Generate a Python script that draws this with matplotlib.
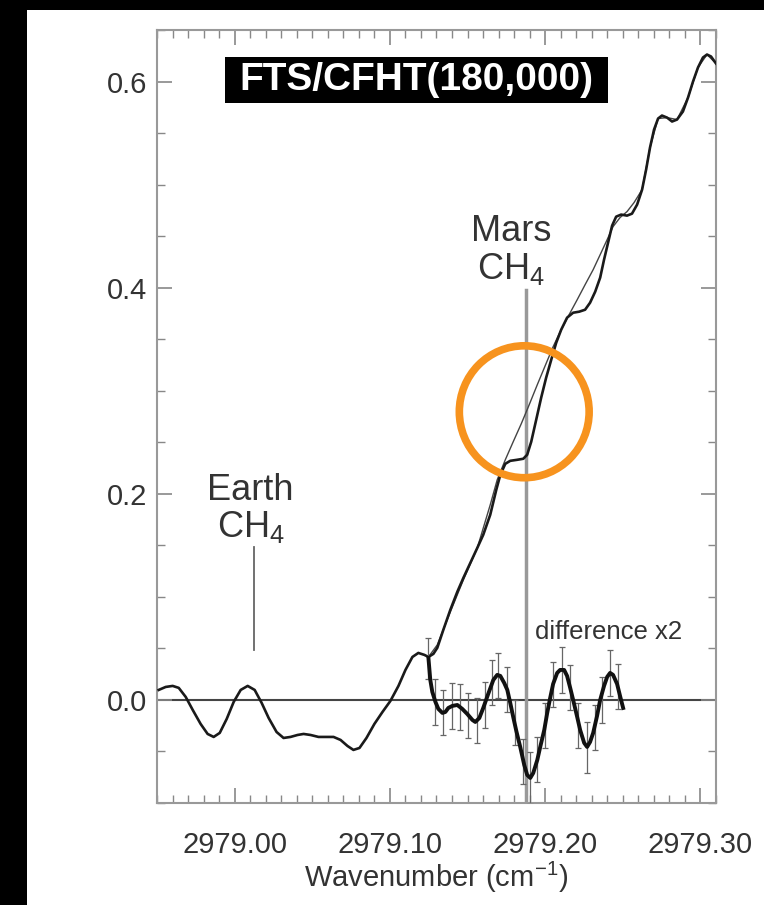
import matplotlib
matplotlib.use('Agg')
import matplotlib.pyplot as plt
from matplotlib.patches import Rectangle, Ellipse
from matplotlib.ticker import MultipleLocator, FormatStrFormatter

plt.rcParams['font.family'] = ['Liberation Sans', 'DejaVu Sans']
plt.rcParams['mathtext.fontset'] = 'custom'
plt.rcParams['mathtext.rm'] = 'Liberation Sans'
plt.rcParams['mathtext.it'] = 'Liberation Sans:italic'
plt.rcParams['mathtext.bf'] = 'Liberation Sans:bold'

# observed Mars spectrum (thick line)
spec_x = [2978.9511, 2978.9556, 2978.9601, 2978.9640, 2978.9685, 2978.9730, 2978.9781,
          2978.9826, 2978.9865, 2978.9904, 2978.9949, 2978.9994, 2979.0039, 2979.0084,
          2979.0129, 2979.0174, 2979.0219, 2979.0270, 2979.0315, 2979.0360, 2979.0405,
          2979.0444, 2979.0489, 2979.0540, 2979.0592, 2979.0637, 2979.0682, 2979.0727,
          2979.0765, 2979.0804, 2979.0849, 2979.0900, 2979.0952, 2979.1003, 2979.1055,
          2979.1100, 2979.1145, 2979.1183, 2979.1222, 2979.1248, 2979.1280, 2979.1305,
          2979.1344, 2979.1389, 2979.1434, 2979.1473, 2979.1518, 2979.1563, 2979.1601,
          2979.1646, 2979.1685, 2979.1711, 2979.1743, 2979.1775, 2979.1820, 2979.1859,
          2979.1884, 2979.1910, 2979.1942, 2979.1974, 2979.2006, 2979.2039, 2979.2071,
          2979.2103, 2979.2141, 2979.2180, 2979.2219, 2979.2257, 2979.2289, 2979.2322,
          2979.2354, 2979.2379, 2979.2405, 2979.2431, 2979.2457, 2979.2489, 2979.2527,
          2979.2559, 2979.2592, 2979.2624, 2979.2650, 2979.2675, 2979.2701, 2979.2727,
          2979.2752, 2979.2785, 2979.2817, 2979.2849, 2979.2887, 2979.2920, 2979.2952,
          2979.2984, 2979.3016, 2979.3042, 2979.3068, 2979.3100]
spec_y = [0.0097, 0.0126, 0.0136, 0.0117, 0.0029, -0.0097, -0.0233,
          -0.0330, -0.0359, -0.0320, -0.0184, -0.0019, 0.0097, 0.0136,
          0.0097, -0.0029, -0.0175, -0.0311, -0.0369, -0.0359, -0.0340,
          -0.0330, -0.0340, -0.0359, -0.0359, -0.0359, -0.0388, -0.0447,
          -0.0485, -0.0466, -0.0369, -0.0233, -0.0117, -0.0010, 0.0136,
          0.0291, 0.0417, 0.0456, 0.0437, 0.0417, 0.0447, 0.0505,
          0.0680, 0.0874, 0.1049, 0.1184, 0.1330, 0.1476, 0.1602,
          0.1796, 0.2039, 0.2184, 0.2291, 0.2320, 0.2330, 0.2340,
          0.2379, 0.2505, 0.2718, 0.2932, 0.3126, 0.3301, 0.3466,
          0.3592, 0.3709, 0.3757, 0.3767, 0.3786, 0.3854, 0.3961,
          0.4097, 0.4272, 0.4437, 0.4602, 0.4689, 0.4709, 0.4699,
          0.4718, 0.4806, 0.4951, 0.5146, 0.5359, 0.5534, 0.5641,
          0.5670, 0.5650, 0.5612, 0.5631, 0.5709, 0.5845, 0.6000,
          0.6136, 0.6233, 0.6262, 0.6243, 0.6175]

# model without Mars CH4 (thin line)
model_x = [2979.1248, 2979.1305, 2979.1389, 2979.1473, 2979.1563, 2979.1646, 2979.1691,
           2979.1743, 2979.1794, 2979.1846, 2979.1897, 2979.1949, 2979.2000, 2979.2051,
           2979.2103, 2979.2154, 2979.2206, 2979.2257, 2979.2309, 2979.2354, 2979.2399,
           2979.2437, 2979.2482, 2979.2527, 2979.2572, 2979.2624, 2979.2675, 2979.2727,
           2979.2785, 2979.2849, 2979.2920, 2979.2984, 2979.3042, 2979.3100]
model_y = [0.0417, 0.0534, 0.0854, 0.1165, 0.1476, 0.1893, 0.2136,
           0.2330, 0.2505, 0.2680, 0.2864, 0.3058, 0.3243, 0.3427,
           0.3592, 0.3738, 0.3883, 0.4029, 0.4175, 0.4320, 0.4466,
           0.4592, 0.4680, 0.4738, 0.4825, 0.4951, 0.5359, 0.5641,
           0.5650, 0.5631, 0.5845, 0.6136, 0.6262, 0.6175]

# difference x2
diff_x = [2979.1248, 2979.1260, 2979.1273, 2979.1293, 2979.1312, 2979.1338, 2979.1357,
          2979.1376, 2979.1402, 2979.1434, 2979.1466, 2979.1498, 2979.1531, 2979.1550,
          2979.1576, 2979.1601, 2979.1633, 2979.1666, 2979.1691, 2979.1711, 2979.1736,
          2979.1756, 2979.1775, 2979.1794, 2979.1814, 2979.1839, 2979.1865, 2979.1884,
          2979.1904, 2979.1923, 2979.1949, 2979.1968, 2979.1994, 2979.2013, 2979.2032,
          2979.2051, 2979.2077, 2979.2096, 2979.2122, 2979.2141, 2979.2161, 2979.2180,
          2979.2206, 2979.2225, 2979.2251, 2979.2270, 2979.2289, 2979.2309, 2979.2334,
          2979.2354, 2979.2379, 2979.2399, 2979.2418, 2979.2437, 2979.2463, 2979.2482,
          2979.2502]
diff_y = [0.0408, 0.0194, 0.0078, -0.0019, -0.0087, -0.0126, -0.0117,
          -0.0078, -0.0058, -0.0049, -0.0087, -0.0136, -0.0194, -0.0214,
          -0.0175, -0.0078, 0.0058, 0.0194, 0.0243, 0.0233, 0.0165,
          0.0097, -0.0029, -0.0165, -0.0301, -0.0455, -0.0631, -0.0728,
          -0.0757, -0.0709, -0.0583, -0.0456, -0.0291, -0.0126, 0.0019,
          0.0155, 0.0262, 0.0291, 0.0291, 0.0233, 0.0117, 0.0000,
          -0.0165, -0.0291, -0.0417, -0.0456, -0.0408, -0.0320, -0.0155,
          0.0000, 0.0136, 0.0223, 0.0262, 0.0243, 0.0155, 0.0039,
          -0.0078]

err_x = [2979.1248, 2979.1293, 2979.1344, 2979.1402, 2979.1453, 2979.1505, 2979.1563,
         2979.1614, 2979.1659, 2979.1698, 2979.1756, 2979.1807, 2979.1859, 2979.1904,
         2979.1949, 2979.2000, 2979.2051, 2979.2109, 2979.2161, 2979.2212, 2979.2270,
         2979.2322, 2979.2367, 2979.2418, 2979.2469]
err_y = [0.040, -0.002, -0.012, -0.006, -0.007, -0.015, -0.020,
         -0.005, 0.017, 0.024, 0.010, -0.022, -0.060, -0.076,
         -0.058, -0.025, 0.015, 0.029, 0.012, -0.025, -0.046,
         -0.027, 0.000, 0.026, 0.013]
err_size = [0.020, 0.022, 0.022, 0.022, 0.022, 0.022, 0.022,
            0.022, 0.022, 0.022, 0.022, 0.022, 0.022, 0.025,
            0.022, 0.022, 0.022, 0.022, 0.022, 0.022, 0.025,
            0.022, 0.022, 0.022, 0.022]

earth_line_x = 2979.0122
earth_line_y = (0.0485, 0.1485)
mars_line_x = 2979.1878
mars_line_top = 0.398

fig = plt.figure(figsize=(7.64, 9.05), dpi=100, facecolor='black')
fig.patches.append(Rectangle((27 / 764, 0), 1, 1 - 10 / 905, transform=fig.transFigure,
                             facecolor='white', edgecolor='none', zorder=-10))
ax = fig.add_axes([157 / 764, 1 - 803 / 905, 559 / 764, 773 / 905])
ax.set_facecolor('white')

ax.axhline(0, color='#444444', lw=1.5, zorder=1)
ax.plot([mars_line_x, mars_line_x], [-0.1, mars_line_top], color='#999999', lw=2.5, zorder=1)
ax.plot([earth_line_x, earth_line_x], earth_line_y, color='#666666', lw=1.3, zorder=1)

ax.plot(model_x, model_y, color='#444444', lw=1.0, zorder=2)
ax.plot(spec_x, spec_y, color='#1a1a1a', lw=1.9, zorder=3)
ax.errorbar(err_x, err_y, yerr=err_size, fmt='none', ecolor='#666666',
            elinewidth=0.9, capsize=2, capthick=0.9, zorder=3)
ax.plot(diff_x, diff_y, color='#111111', lw=2.8, zorder=4)

ax.set_xlim(2978.95, 2979.31)
ax.set_ylim(-0.1, 0.65)

ax.xaxis.set_major_locator(MultipleLocator(0.1))
ax.xaxis.set_minor_locator(MultipleLocator(0.01))
ax.xaxis.set_major_formatter(FormatStrFormatter('%.2f'))
ax.yaxis.set_major_locator(MultipleLocator(0.2))
ax.yaxis.set_minor_locator(MultipleLocator(0.05))
ax.yaxis.set_major_formatter(FormatStrFormatter('%.1f'))

ax.tick_params(which='both', direction='in', top=True, right=True, color='#888888',
               labelcolor='#333333', labelsize=21)
ax.tick_params(which='major', length=11, width=1.2)
ax.tick_params(which='minor', length=6, width=1.0)
ax.tick_params(axis='x', pad=20)
ax.tick_params(axis='y', pad=7)
for s in ax.spines.values():
    s.set_color('#999999')
    s.set_linewidth(1.5)

ax.set_xlabel('Wavenumber (cm$^{-1}$)', fontsize=21, color='#333333', labelpad=1)

ax.text(2979.0103, 0.185, 'Earth\nCH$_4$', fontsize=26, color='#333333',
        ha='center', va='center', linespacing=1.05)
ax.text(2979.1781, 0.436, 'Mars\nCH$_4$', fontsize=26, color='#333333',
        ha='center', va='center', linespacing=1.05)
ax.text(2979.1936, 0.066, 'difference x2', fontsize=18.5, color='#333333',
        ha='left', va='center')

ax.add_patch(Rectangle((0.1216, 0.9056), 0.6852, 0.0594, transform=ax.transAxes,
                       facecolor='black', edgecolor='none', zorder=6))
ax.text(0.464, 0.9353, 'FTS/CFHT(180,000)', transform=ax.transAxes, fontsize=28,
        fontweight='bold', color='white', ha='center', va='center', zorder=7)

ax.add_patch(Ellipse((2979.1865, 0.2796), 2 * 0.0418, 2 * 0.064, facecolor='none',
                     edgecolor='#f7931e', lw=5.5, zorder=8))

fig.savefig('out.png', dpi=100, facecolor=fig.get_facecolor())
